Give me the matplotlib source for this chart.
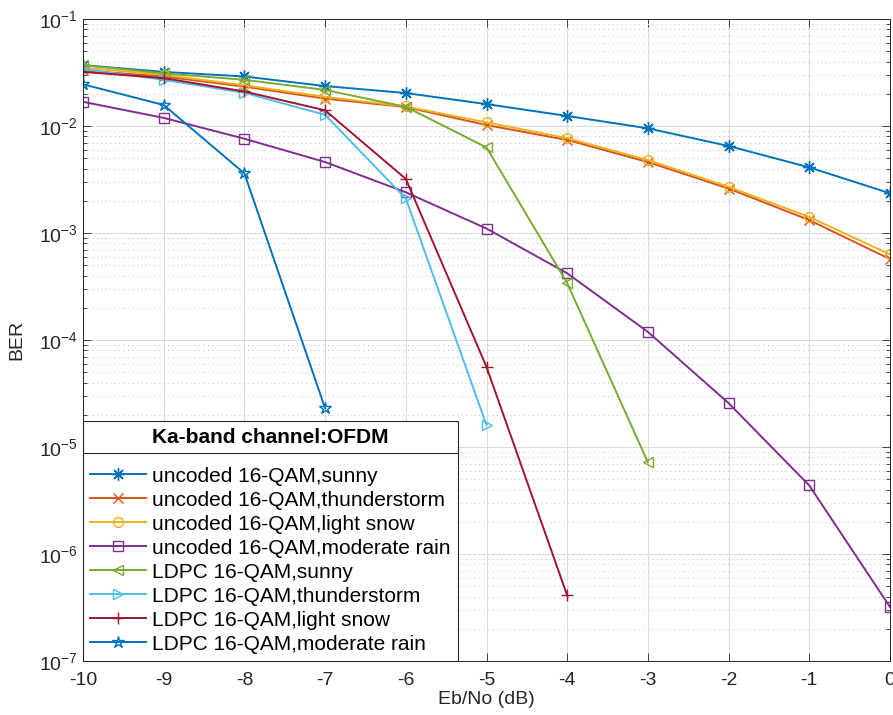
import matplotlib
matplotlib.use("Agg")
import matplotlib.pyplot as plt
from matplotlib.lines import Line2D
from matplotlib.ticker import LogLocator, NullFormatter

plt.rcParams['font.family'] = ['Liberation Sans', 'DejaVu Sans']
plt.rcParams['axes.unicode_minus'] = False

# Eb/No (dB)
snr = [-10, -9, -8, -7, -6, -5, -4, -3, -2, -1, 0]

unc_sunny = [0.037, 0.032, 0.029, 0.0236, 0.0203, 0.016, 0.0124, 0.0095, 0.0065, 0.0041, 0.00235]
unc_thunder = [0.033, 0.029, 0.0233, 0.018, 0.015, 0.0102, 0.0074, 0.0046, 0.0026, 0.00132, 0.00057]
unc_snow = [0.035, 0.030, 0.024, 0.0187, 0.0152, 0.0108, 0.0077, 0.0048, 0.0027, 0.00141, 0.00063]
unc_rain = [0.0168, 0.0119, 0.0076, 0.0046, 0.0024, 0.0011, 0.00042, 0.000119, 2.57e-5, 4.37e-6, 3.2e-7]

ldpc_sunny = [0.037, 0.031, 0.027, 0.0217, 0.0151, 0.0063, 0.00034, 7.2e-6]
ldpc_thunder = [0.034, 0.027, 0.0204, 0.0127, 0.0021, 1.6e-5]
ldpc_snow = [0.032, 0.028, 0.021, 0.014, 0.0032, 5.6e-5, 4.1e-7]
ldpc_rain = [0.0245, 0.0157, 0.0036, 2.3e-5]

labels = ["uncoded 16-QAM,sunny", "uncoded 16-QAM,thunderstorm",
          "uncoded 16-QAM,light snow", "uncoded 16-QAM,moderate rain",
          "LDPC 16-QAM,sunny", "LDPC 16-QAM,thunderstorm",
          "LDPC 16-QAM,light snow", "LDPC 16-QAM,moderate rain"]

series = [unc_sunny, unc_thunder, unc_snow, unc_rain,
          ldpc_sunny, ldpc_thunder, ldpc_snow, ldpc_rain]
colors = ['#0072BD', '#D95319', '#EDB120', '#7E2F8E',
          '#77AC30', '#4DBEEE', '#A2142F', '#0072BD']
# matlab style markers: asterisk, x, o, square, <, >, +, pentagram
markers = [(8, 2, 0), 'x', 'o', 's', '<', '>', '+', '*']
sizes = [9, 7, 7, 7, 7, 7, 9, 9]

fig = plt.figure(figsize=(8.93, 7.15), dpi=100)
ax = fig.add_axes([0.093, 0.0755, 0.9036, 0.898])

for y, lab, c, m, ms in zip(series, labels, colors, markers, sizes):
    ax.semilogy(snr[:len(y)], y, color=c, marker=m, markersize=ms,
                markerfacecolor='none', markeredgewidth=1, linewidth=1.4, label=lab)

ax.set_xlim(-10, 0)
ax.set_ylim(1e-7, 1e-1)
ax.set_xticks(snr)
ax.yaxis.set_major_locator(LogLocator(base=10, numticks=10))
ax.yaxis.set_minor_locator(LogLocator(base=10, subs=range(2, 10), numticks=100))
ax.yaxis.set_minor_formatter(NullFormatter())

ax.grid(True, which='major', color='#dcdcdc', linewidth=0.8, linestyle='-')
ax.grid(True, which='minor', axis='y', color='#c8c8c8', linewidth=0.8, linestyle=(0, (1, 3)))
ax.set_axisbelow(True)

ax.tick_params(which='both', direction='in', top=True, right=True, colors='#262626',
               labelsize=14, width=0.6)
ax.tick_params(which='major', length=6)
ax.tick_params(which='minor', length=3)
ax.tick_params(axis='x', pad=8)
for s in ax.spines.values():
    s.set_color('#262626')
    s.set_linewidth(0.7)

ax.set_xlabel("Eb/No (dB)", fontsize=14, color='#262626', labelpad=1)
ax.set_ylabel("BER", fontsize=14, color='#262626', labelpad=10)

leg = ax.legend(loc='lower left', bbox_to_anchor=(0, 0), fontsize=15,
                title="Ka-band channel:OFDM",
                title_fontproperties={'weight': 'bold', 'size': 15},
                fancybox=False, framealpha=1, edgecolor='#262626',
                borderaxespad=0, handlelength=2.65, handletextpad=0.33,
                labelspacing=0.24, borderpad=0.35)
leg.get_frame().set_linewidth(0.8)
leg._legend_box.sep = 14

# separator line under legend title
fig.canvas.draw()
renderer = fig.canvas.get_renderer()
fb = leg.get_frame().get_window_extent(renderer)
tb = leg.get_title().get_window_extent(renderer)
ysep = tb.y0 - 6
inv = fig.transFigure.inverted()
(x0, y0), (x1, _) = inv.transform([(fb.x0, ysep), (fb.x1, ysep)])
fig.add_artist(Line2D([x0, x1], [y0, y0], color='#262626', linewidth=0.8, zorder=10))

fig.savefig("out.png", dpi=100)
